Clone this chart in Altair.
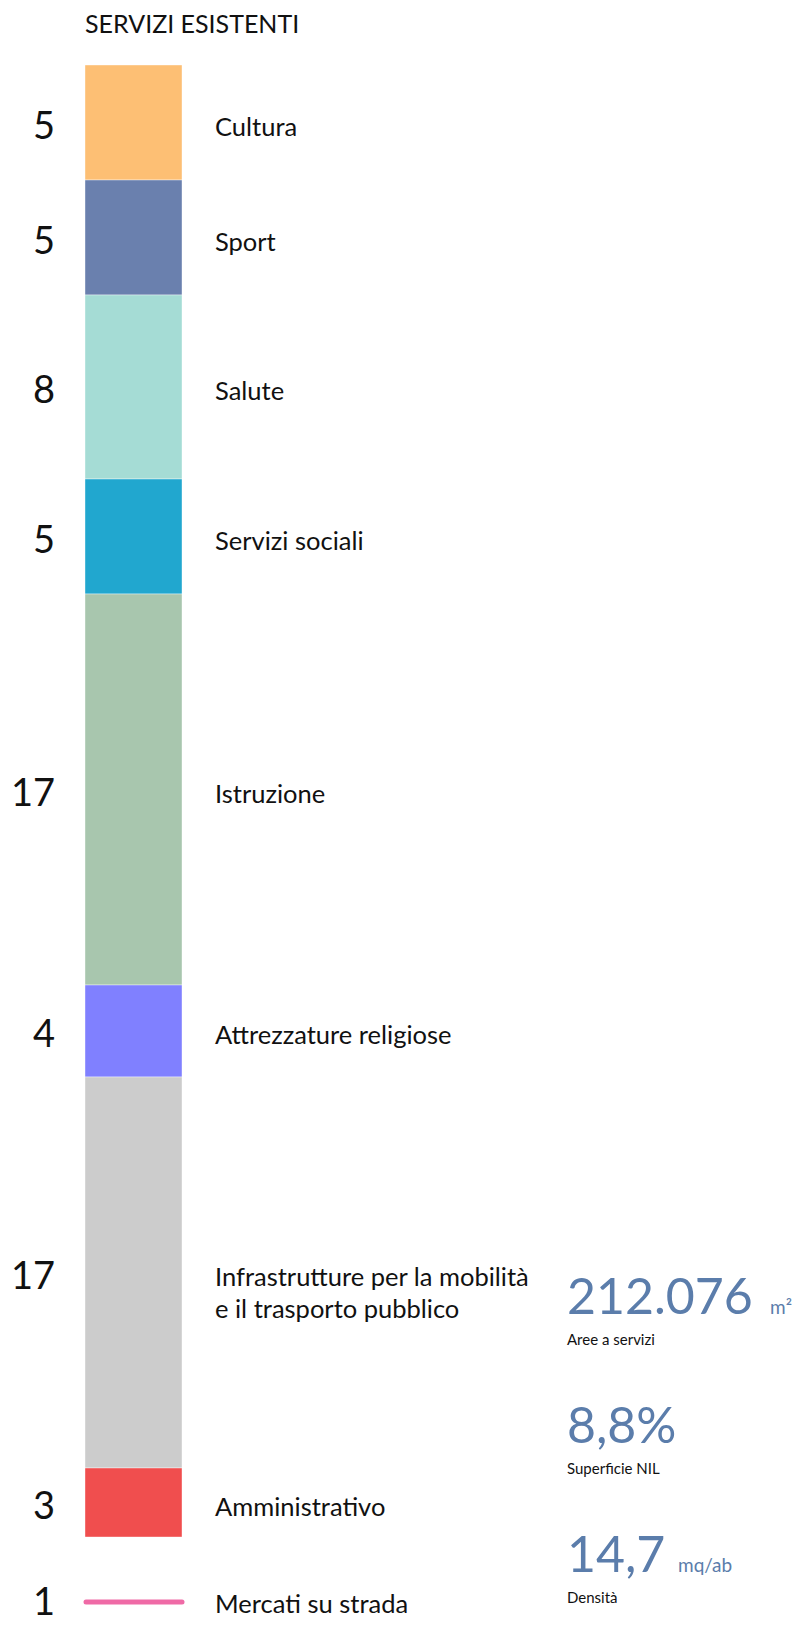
import altair as alt
import pandas as pd

# ---- data ----
categories = ["Cultura", "Sport", "Salute", "Servizi sociali", "Istruzione",
              "Attrezzature religiose", "Infrastrutture per la mobilità", "Amministrativo"]
label_line2 = ["", "", "", "", "", "", "e il trasporto pubblico", ""]
counts = [5, 5, 8, 5, 17, 4, 17, 3]
colors = ["#fdbf74", "#6a80ae", "#a5dcd5", "#21a7cf", "#a8c6ae", "#8080ff", "#cccccc", "#f04e4e"]

line_category = ["Mercati su strada"]
line_count = [1]
line_color = "#ef6aa6"

stat_values = ["212.076", "8,8%", "14,7"]
stat_units = ["m²", "", "mq/ab"]
stat_labels = ["Aree a servizi", "Superficie NIL", "Densità"]

title_text = "SERVIZI ESISTENTI"

# ---- layout ----
FONT = "Lato"
PX_PER_UNIT = 23
Y_UNITS = 67
LINE_GAP = 2.83
BAR_W = 97
STAT_COLOR = "#5b7dab"
LABEL_SIZE = 25.5

df = pd.DataFrame({"cat": categories, "line2": label_line2, "n": counts,
                   "idx": list(range(len(categories)))})
ldf = pd.DataFrame({"cat": line_category, "n": line_count})
ldf["pos"] = sum(counts) + LINE_GAP

y_scale = alt.Scale(domain=[0, Y_UNITS], range=[0, Y_UNITS * PX_PER_UNIT], nice=False, zero=False)

base = alt.Chart(df).transform_window(
    cum="sum(n)", sort=[alt.SortField("idx")], frame=[None, 0]
).transform_calculate(
    start="datum.cum - datum.n", mid="datum.cum - datum.n/2"
)

bars = base.mark_rect(stroke="white", strokeWidth=0.4).encode(
    x=alt.value(0), x2=alt.value(BAR_W),
    y=alt.Y("start:Q", scale=y_scale, axis=None), y2="cum:Q",
    color=alt.Color("cat:N", scale=alt.Scale(domain=categories, range=colors), legend=None),
)

nums = base.mark_text(align="right", baseline="middle", font=FONT, fontSize=38,
                      color="#111111", dy=5).encode(
    x=alt.value(-30), y=alt.Y("mid:Q", scale=y_scale), text="n:Q")

labels = base.mark_text(align="left", baseline="middle", font=FONT, fontSize=LABEL_SIZE,
                        color="#111111", dy=5).encode(
    x=alt.value(130), y=alt.Y("mid:Q", scale=y_scale), text="cat:N")

labels2 = base.mark_text(align="left", baseline="middle", font=FONT, fontSize=LABEL_SIZE,
                         color="#111111", dy=37).encode(
    x=alt.value(130), y=alt.Y("mid:Q", scale=y_scale), text="line2:N")

lbase = alt.Chart(ldf)
rule = lbase.mark_rule(strokeWidth=5, strokeCap="round", color=line_color).encode(
    x=alt.value(1), x2=alt.value(BAR_W), y=alt.Y("pos:Q", scale=y_scale))
lnum = lbase.mark_text(align="right", baseline="middle", font=FONT, fontSize=38,
                       color="#111111", dy=2).encode(
    x=alt.value(-30), y=alt.Y("pos:Q", scale=y_scale), text="n:Q")
llab = lbase.mark_text(align="left", baseline="middle", font=FONT, fontSize=LABEL_SIZE,
                       color="#111111", dy=3).encode(
    x=alt.value(130), y=alt.Y("pos:Q", scale=y_scale), text="cat:N")

title = alt.Chart(pd.DataFrame({"t": [title_text]})).mark_text(
    align="left", baseline="alphabetic", font=FONT, fontSize=25, color="#111111"
).encode(x=alt.value(0), y=alt.value(-32), text="t:N")

STAT_Y0 = 1249
STAT_STEP = 129
sdf = pd.DataFrame({"v": stat_values, "u": stat_units, "l": stat_labels})
sdf["py"] = [STAT_Y0 + i * STAT_STEP for i in range(len(sdf))]
sdf["ux"] = [685, 0, 593]
sbase = alt.Chart(sdf)
svals = sbase.mark_text(align="left", baseline="alphabetic", font=FONT, fontSize=50,
                        color=STAT_COLOR).encode(
    x=alt.value(482), y=alt.Y("py:Q", scale=None), text="v:N")
sunits = sbase.mark_text(align="left", baseline="alphabetic", font=FONT, fontSize=19,
                         color=STAT_COLOR).encode(
    x=alt.X("ux:Q", scale=None), y=alt.Y("py:Q", scale=None), text="u:N")
slabs = sbase.mark_text(align="left", baseline="alphabetic", font=FONT, fontSize=15,
                        color="#111111", dy=31).encode(
    x=alt.value(482), y=alt.Y("py:Q", scale=None), text="l:N")

chart = alt.layer(bars, nums, labels, labels2, rule, lnum, llab, title, svals, sunits, slabs).properties(
    width=717, height=1555,
    autosize=alt.AutoSizeParams(type="none"),
    padding={"left": 77, "top": 57, "right": 0, "bottom": 0},
).configure_view(stroke=None, clip=False)

chart.save("out.html", embed_options={"renderer": "svg", "actions": False})
